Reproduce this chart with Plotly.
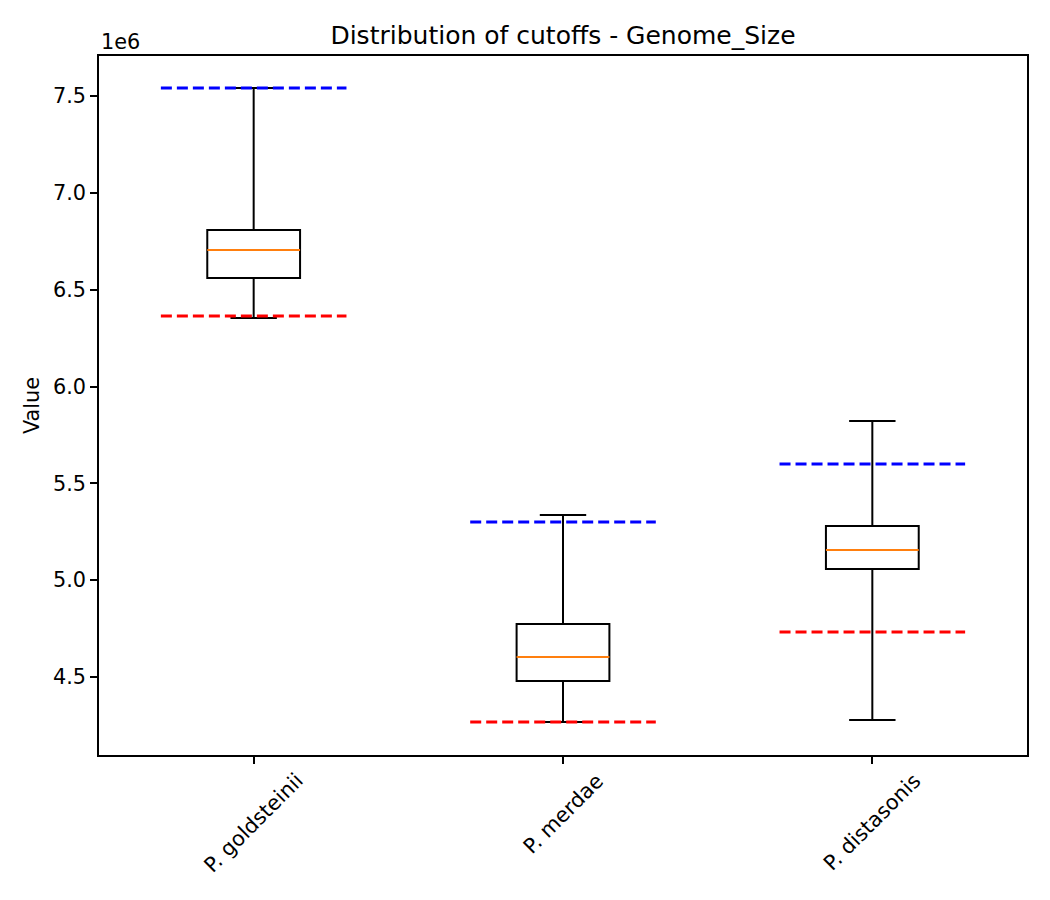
import plotly.graph_objects as go

categories = ["P. goldsteinii", "P. merdae", "P. distasonis"]
q1 = [6.560e6, 4.479e6, 5.058e6]
median = [6.705e6, 4.603e6, 5.156e6]
q3 = [6.808e6, 4.774e6, 5.280e6]
lower = [6.354e6, 4.268e6, 4.278e6]
upper = [7.541e6, 5.337e6, 5.822e6]
upper_cutoff = [7.541e6, 5.300e6, 5.600e6]
lower_cutoff = [6.364e6, 4.268e6, 4.732e6]
ytick_vals = [4.5e6, 5.0e6, 5.5e6, 6.0e6, 6.5e6, 7.0e6, 7.5e6]
ytick_text = ["4.5", "5.0", "5.5", "6.0", "6.5", "7.0", "7.5"]

pos = list(range(1, len(categories) + 1))
FONT = "DejaVu Sans"
TICK = 20.8
fig = go.Figure()

fig.add_trace(go.Box(
    x=pos, q1=q1, median=median, q3=q3, lowerfence=lower, upperfence=upper,
    width=0.3, whiskerwidth=0.5, fillcolor="rgba(255,255,255,0)",
    line=dict(color="black", width=2.0), boxpoints=False, showlegend=False,
    hoverinfo="skip",
))

for i, p in enumerate(pos):
    fig.add_trace(go.Scatter(x=[p - 0.15, p + 0.15], y=[median[i], median[i]], mode="lines",
                             line=dict(color="#ff7f0e", width=2.0), showlegend=False, hoverinfo="skip"))
    fig.add_trace(go.Scatter(x=[p - 0.3, p + 0.3], y=[upper_cutoff[i], upper_cutoff[i]], mode="lines",
                             line=dict(color="#0000ff", width=3.0, dash="11px,5px"), showlegend=False, hoverinfo="skip"))
    fig.add_trace(go.Scatter(x=[p - 0.3, p + 0.3], y=[lower_cutoff[i], lower_cutoff[i]], mode="lines",
                             line=dict(color="#ff0000", width=3.0, dash="11px,5px"), showlegend=False, hoverinfo="skip"))
    fig.add_annotation(x=p, y=0, xref="x", yref="paper", yshift=-11, text=categories[i],
                       textangle=-45, showarrow=False, xanchor="center", yanchor="top",
                       font=dict(family=FONT, size=TICK, color="black"))

fig.add_annotation(x=0, y=1, xref="paper", yref="paper", text="1e6", showarrow=False,
                   xanchor="left", yanchor="bottom", yshift=0, font=dict(family=FONT, size=TICK, color="black"))

fig.update_layout(
    width=1050, height=900,
    margin=dict(l=99, r=23, t=56, b=145),
    plot_bgcolor="white", paper_bgcolor="white",
    font=dict(family=FONT, size=TICK, color="black"),
    title=dict(text="Distribution of cutoffs - Genome_Size", x=0.5, xref="paper", y=1, yref="paper",
               yanchor="bottom", pad=dict(b=12), font=dict(family=FONT, size=25, color="black")),
    xaxis=dict(range=[0.5, 3.5], tickvals=pos, ticktext=[""] * len(pos), showgrid=False, zeroline=False,
               showline=True, linecolor="black", linewidth=1.7, mirror=True,
               ticks="outside", ticklen=7, tickwidth=1.7, tickcolor="black"),
    yaxis=dict(range=[4.0973e6, 7.7065e6], tickvals=ytick_vals, ticktext=ytick_text, showgrid=False,
               zeroline=False, showline=True, linecolor="black", linewidth=1.7, mirror=True,
               ticks="outside", ticklen=7, tickwidth=1.7, tickcolor="black",
               title=dict(text="Value", standoff=8, font=dict(family=FONT, size=TICK))),
)

fig.write_html("out.html")
